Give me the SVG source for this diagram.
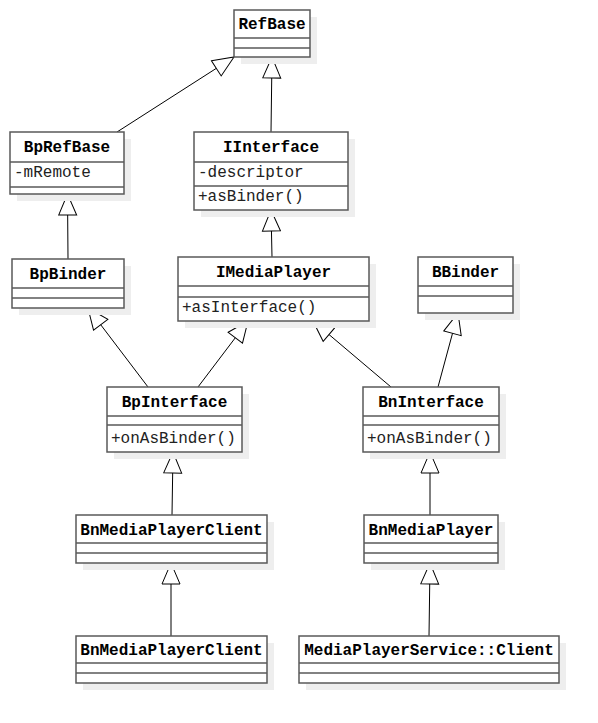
<svg xmlns="http://www.w3.org/2000/svg" width="598" height="723" viewBox="0 0 598 723">
<defs>
<style>
.sh{fill:#eeeeee;stroke:none}
.box{fill:#ffffff;stroke:#595959;stroke-width:1.5}
.div{stroke:#595959;stroke-width:1.5}
.t{font-family:"Liberation Mono","DejaVu Sans Mono",monospace;font-size:16px;font-weight:bold;fill:#000;text-anchor:middle}
.a{font-family:"Liberation Mono","DejaVu Sans Mono",monospace;font-size:16px;fill:#222}
.c{stroke:#000;stroke-width:1;fill:none;marker-end:url(#tri)}
</style>
<marker id="tri" viewBox="-1 -10 23 20" markerWidth="23" markerHeight="20" refX="21" refY="0" orient="auto" markerUnits="userSpaceOnUse">
<path d="M0,-9 L21,0 L0,9 Z" fill="#fff" stroke="#000" stroke-width="1"/>
</marker>
</defs>
<rect width="598" height="723" fill="#fff"/>

<g id="connectors">
<line class="c" x1="117" y1="132" x2="234" y2="57"/>
<line class="c" x1="271" y1="132" x2="272" y2="57"/>
<line class="c" x1="68" y1="259" x2="67.5" y2="194"/>
<line class="c" x1="272" y1="257" x2="271" y2="210"/>
<line class="c" x1="148" y1="387" x2="88" y2="308"/>
<line class="c" x1="198" y1="387" x2="248" y2="321"/>
<line class="c" x1="391" y1="387" x2="313" y2="321"/>
<line class="c" x1="438" y1="387" x2="458" y2="313"/>
<line class="c" x1="172" y1="515" x2="173" y2="452"/>
<line class="c" x1="430" y1="515" x2="430" y2="452"/>
<line class="c" x1="171" y1="636" x2="171" y2="563"/>
<line class="c" x1="429" y1="636" x2="430" y2="563"/>
</g>

<g id="RefBase">
<rect class="sh" x="241" y="17" width="76" height="47"/>
<rect class="box" x="234" y="10" width="76" height="47"/>
<line class="div" x1="234" y1="38" x2="310" y2="38"/>
<line class="div" x1="234" y1="48" x2="310" y2="48"/>
<text class="t" x="272" y="29">RefBase</text>
</g>

<g id="BpRefBase">
<rect class="sh" x="17" y="139" width="114" height="62"/>
<rect class="box" x="10" y="132" width="114" height="62"/>
<line class="div" x1="10" y1="162" x2="124" y2="162"/>
<line class="div" x1="10" y1="187" x2="124" y2="187"/>
<text class="t" x="67" y="152">BpRefBase</text>
<text class="a" x="14" y="177">-mRemote</text>
</g>

<g id="IInterface">
<rect class="sh" x="201" y="139" width="154" height="78"/>
<rect class="box" x="194" y="132" width="154" height="78"/>
<line class="div" x1="194" y1="162" x2="348" y2="162"/>
<line class="div" x1="194" y1="186" x2="348" y2="186"/>
<text class="t" x="271" y="151.5">IInterface</text>
<text class="a" x="198" y="176.5">-descriptor</text>
<text class="a" x="198" y="201">+asBinder()</text>
</g>

<g id="BpBinder">
<rect class="sh" x="19" y="266" width="112" height="49"/>
<rect class="box" x="12" y="259" width="112" height="49"/>
<line class="div" x1="12" y1="288" x2="124" y2="288"/>
<line class="div" x1="12" y1="298" x2="124" y2="298"/>
<text class="t" x="68" y="279">BpBinder</text>
</g>

<g id="IMediaPlayer">
<rect class="sh" x="185" y="264" width="191" height="64"/>
<rect class="box" x="178" y="257" width="191" height="64"/>
<line class="div" x1="178" y1="286" x2="369" y2="286"/>
<line class="div" x1="178" y1="297" x2="369" y2="297"/>
<text class="t" x="273.5" y="277">IMediaPlayer</text>
<text class="a" x="182" y="312">+asInterface()</text>
</g>

<g id="BBinder">
<rect class="sh" x="425" y="264" width="95" height="56"/>
<rect class="box" x="418" y="257" width="95" height="56"/>
<line class="div" x1="418" y1="286" x2="513" y2="286"/>
<line class="div" x1="418" y1="296" x2="513" y2="296"/>
<text class="t" x="465.5" y="277">BBinder</text>
</g>

<g id="BpInterface">
<rect class="sh" x="114" y="394" width="135" height="65"/>
<rect class="box" x="107" y="387" width="135" height="65"/>
<line class="div" x1="107" y1="416" x2="242" y2="416"/>
<line class="div" x1="107" y1="425" x2="242" y2="425"/>
<text class="t" x="174.5" y="407">BpInterface</text>
<text class="a" x="111" y="442.5">+onAsBinder()</text>
</g>

<g id="BnInterface">
<rect class="sh" x="370" y="394" width="136" height="65"/>
<rect class="box" x="363" y="387" width="136" height="65"/>
<line class="div" x1="363" y1="416" x2="499" y2="416"/>
<line class="div" x1="363" y1="425" x2="499" y2="425"/>
<text class="t" x="431" y="407">BnInterface</text>
<text class="a" x="367" y="442.5">+onAsBinder()</text>
</g>

<g id="BnMediaPlayerClient">
<rect class="sh" x="83" y="522" width="191" height="48"/>
<rect class="box" x="76" y="515" width="191" height="48"/>
<line class="div" x1="76" y1="543" x2="267" y2="543"/>
<line class="div" x1="76" y1="553" x2="267" y2="553"/>
<text class="t" x="171.5" y="534.5">BnMediaPlayerClient</text>
</g>

<g id="BnMediaPlayer">
<rect class="sh" x="371" y="522" width="134" height="48"/>
<rect class="box" x="364" y="515" width="134" height="48"/>
<line class="div" x1="364" y1="543" x2="498" y2="543"/>
<line class="div" x1="364" y1="553" x2="498" y2="553"/>
<text class="t" x="431" y="534.5">BnMediaPlayer</text>
</g>

<g id="BnMediaPlayerClient2">
<rect class="sh" x="83" y="643" width="191" height="47"/>
<rect class="box" x="76" y="636" width="191" height="47"/>
<line class="div" x1="76" y1="663" x2="267" y2="663"/>
<line class="div" x1="76" y1="673" x2="267" y2="673"/>
<text class="t" x="171.5" y="655">BnMediaPlayerClient</text>
</g>

<g id="MediaPlayerServiceClient">
<rect class="sh" x="306" y="643" width="260" height="47"/>
<rect class="box" x="299" y="636" width="260" height="47"/>
<line class="div" x1="299" y1="663" x2="559" y2="663"/>
<line class="div" x1="299" y1="673" x2="559" y2="673"/>
<text class="t" x="429" y="655">MediaPlayerService::Client</text>
</g>
</svg>
